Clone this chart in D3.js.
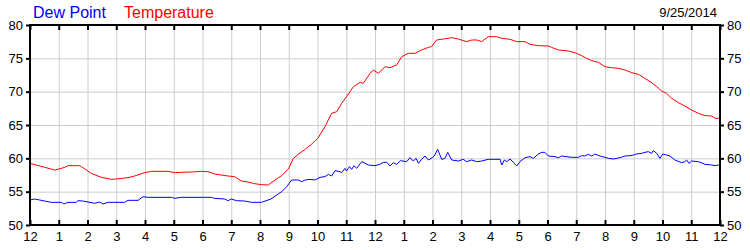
<!DOCTYPE html>
<html>
<head>
<meta charset="utf-8">
<script src="https://cdn.jsdelivr.net/npm/d3@7"></script>
<style>
  body { margin: 0; background: #fff; }
  svg text { font-family: Arial, "Liberation Sans", sans-serif; }
</style>
</head>
<body>
<div id="chart"></div>
<script>
/* DATA */
const dateLabel = "9/25/2014";
const hourLabels = ["12","1","2","3","4","5","6","7","8","9","10","11","12","1","2","3","4","5","6","7","8","9","10","11","12"];
const yTicks = [50, 55, 60, 65, 70, 75, 80];

// hours after midnight / degrees F
const tempHours = [0,0.51,0.86,1.0,1.21,1.32,1.73,1.79,2.13,2.48,2.83,3.0,3.41,3.64,3.99,4.22,4.8,5.03,5.26,5.61,5.96,6.19,6.42,6.89,7.12,7.35,7.58,7.81,8.05,8.29,8.52,8.75,8.99,9.16,9.33,9.57,9.8,10.01,10.26,10.49,10.67,10.84,11.01,11.25,11.48,11.59,11.83,11.94,12.12,12.35,12.52,12.75,12.93,13.16,13.39,13.62,13.86,13.97,14.14,14.38,14.67,14.9,15.19,15.36,15.54,15.71,15.94,16.23,16.41,16.7,16.93,17.22,17.39,17.68,18.03,18.14,18.38,18.72,18.96,19.19,19.36,19.54,19.77,20.0,20.23,20.46,20.7,20.93,21.16,21.33,21.57,21.8,21.97,22.14,22.32,22.55,22.78,23.01,23.25,23.48,23.71,23.83,23.94,24];
const tempValues = [59.25,58.65,58.25,58.4,58.65,58.9,58.9,58.75,57.75,57.15,56.85,56.9,57.1,57.35,57.85,58.05,58.05,57.85,57.9,57.95,58.05,58.0,57.65,57.35,57.25,56.6,56.45,56.2,56.05,56.0,56.75,57.4,58.4,60,60.6,61.35,62.15,63,64.75,66.75,67,68.25,69.25,70.75,71.4,71.25,72.75,73.25,72.75,73.75,73.6,74,75.25,75.75,75.75,76.25,76.65,76.75,77.75,77.9,78.1,77.9,77.5,77.75,77.75,77.5,78.25,78.25,78,77.85,77.5,77.5,77.1,76.9,76.85,76.65,76.25,76.1,75.85,75.4,75,74.65,74.4,73.75,73.6,73.5,73.25,72.85,72.6,72.15,71.5,70.75,70.1,69.75,69,68.35,67.85,67.25,66.75,66.4,66.35,66,66,66.2];

const dewHours = [0,0.16,0.34,0.51,0.74,1.09,1.18,1.32,1.61,1.67,1.84,2.02,2.25,2.42,2.54,2.71,3.29,3.41,3.76,3.93,4.1,4.92,5.03,5.26,6.31,6.42,6.77,6.89,7.0,7.18,7.47,7.7,8.05,8.38,8.75,8.93,9.1,9.33,9.45,9.57,9.74,9.91,10.09,10.26,10.38,10.49,10.61,10.78,10.84,10.96,11.01,11.11,11.19,11.27,11.36,11.54,11.77,12.0,12.17,12.29,12.41,12.52,12.64,12.75,12.89,13.1,13.22,13.33,13.43,13.51,13.62,13.74,13.86,13.99,14.06,14.18,14.32,14.43,14.53,14.67,14.9,15.07,15.19,15.36,15.54,15.71,15.94,16.17,16.35,16.41,16.5,16.58,16.7,16.81,16.93,17.04,17.22,17.39,17.51,17.68,17.8,17.91,18.03,18.26,18.38,18.49,18.84,19.07,19.19,19.3,19.42,19.54,19.65,19.83,20.12,20.29,20.52,20.7,20.87,20.99,21.1,21.28,21.39,21.51,21.62,21.68,21.8,21.91,22.01,22.14,22.26,22.43,22.67,22.78,22.84,22.92,23.01,23.25,23.48,23.71,23.83,23.94,24];
const dewValues = [53.75,53.9,53.75,53.6,53.4,53.4,53.15,53.4,53.4,53.65,53.6,53.45,53.25,53.45,53.15,53.4,53.4,53.7,53.7,54.25,54.15,54.15,54.0,54.15,54.15,54.0,53.9,53.65,53.9,53.65,53.6,53.4,53.4,53.9,55,55.75,56.75,56.75,56.5,56.75,56.85,56.75,57.15,57.25,57.6,57.35,58.15,58,57.85,58.5,58.1,58.75,58.35,58.9,58.5,59.5,59,58.9,59.1,59.4,59.4,58.85,59.35,59.1,59.65,59.5,60.1,59.6,60,59.25,59.85,60.35,59.75,60.1,60.35,61.35,59.85,60,60.9,59.75,59.6,59.85,59.5,59.75,59.5,59.6,59.85,59.85,59.85,59,59.75,59.5,59.9,59.4,58.85,59.5,60.1,60.25,60,60.65,60.9,60.9,60.35,60.25,60.1,60.35,60.15,60.15,60.4,60.35,60.6,60.35,60.65,60.35,60,59.9,60.1,60.35,60.4,60.5,60.65,60.75,60.9,61,60.75,61.15,60.75,60,60.65,60.5,60.35,59.75,59.35,59.5,59.75,59.25,59.6,59.5,59.1,59,58.9,59,59];

/* CONSTANTS */
const width = 750,
  height = 250,
  margin = { top: 25, bottom: 25, left: 30, right: 30 };

const svg = d3.select("#chart")
  .append("svg")
  .attr("width", width)
  .attr("height", height);

// + SCALES
const xScale = d3.scaleLinear()
  .domain([0, 24])
  .range([margin.left, width - margin.right]);

const yScale = d3.scaleLinear()
  .domain([50, 80])
  .range([height - margin.bottom, margin.top]);

const hourTicks = d3.range(0, 25);
const innerW = width - margin.left - margin.right,
  innerH = height - margin.top - margin.bottom;

// + GRID
svg.append("g")
  .attr("class", "xGrid")
  .attr("transform", `translate(0, ${height - margin.bottom})`)
  .call(d3.axisBottom(xScale).tickValues(hourTicks).tickSize(-innerH).tickFormat(""))
  .call(g => g.select(".domain").remove())
  .call(g => g.selectAll("line").attr("stroke", "#cccccc"));

svg.append("g")
  .attr("class", "yGrid")
  .attr("transform", `translate(${margin.left}, 0)`)
  .call(d3.axisLeft(yScale).tickValues(yTicks).tickSize(-innerW).tickFormat(""))
  .call(g => g.select(".domain").remove())
  .call(g => g.selectAll("line").attr("stroke", "#cccccc"));

// + LINES
const lineGen = d3.line()
  .x(d => xScale(d[0]))
  .y(d => yScale(d[1]));

svg.append("path")
  .datum(dewHours.map((h, i) => [h, dewValues[i]]))
  .attr("fill", "none")
  .attr("stroke", "#0000ff")
  .attr("stroke-width", 1)
  .attr("d", lineGen);

svg.append("path")
  .datum(tempHours.map((h, i) => [h, tempValues[i]]))
  .attr("fill", "none")
  .attr("stroke", "#ff0000")
  .attr("stroke-width", 1)
  .attr("d", lineGen);

// + AXES
const styleAxis = g => {
  g.select(".domain").remove();
  g.selectAll("line").attr("stroke", "#000").attr("stroke-width", 2);
  g.selectAll("text").attr("fill", "#000").attr("font-size", 13);
};

svg.append("g")
  .attr("transform", `translate(0, ${height - margin.bottom})`)
  .call(d3.axisBottom(xScale).tickValues(hourTicks).tickSize(-5).tickPadding(7)
    .tickFormat((d, i) => hourLabels[i]))
  .call(styleAxis);

svg.append("g")
  .attr("transform", `translate(0, ${margin.top})`)
  .call(d3.axisTop(xScale).tickValues(hourTicks).tickSize(-5).tickFormat(""))
  .call(styleAxis);

svg.append("g")
  .attr("transform", `translate(${margin.left}, 0)`)
  .call(d3.axisLeft(yScale).tickValues(yTicks).tickSize(4).tickPadding(3))
  .call(styleAxis);

svg.append("g")
  .attr("transform", `translate(${width - margin.right}, 0)`)
  .call(d3.axisRight(yScale).tickValues(yTicks).tickSize(4).tickPadding(3))
  .call(styleAxis);

// frame
svg.append("rect")
  .attr("x", margin.left)
  .attr("y", margin.top)
  .attr("width", innerW)
  .attr("height", innerH)
  .attr("fill", "none")
  .attr("stroke", "#000")
  .attr("stroke-width", 2);

// + LEGEND / DATE
svg.append("text")
  .attr("x", 33)
  .attr("y", 18)
  .attr("font-size", 16)
  .attr("fill", "#0000ff")
  .text("Dew Point");

svg.append("text")
  .attr("x", 124)
  .attr("y", 18)
  .attr("font-size", 16)
  .attr("fill", "#ff0000")
  .text("Temperature");

svg.append("text")
  .attr("x", 717)
  .attr("y", 17)
  .attr("text-anchor", "end")
  .attr("font-size", 13)
  .attr("fill", "#000")
  .text(dateLabel);
</script>
</body>
</html>
